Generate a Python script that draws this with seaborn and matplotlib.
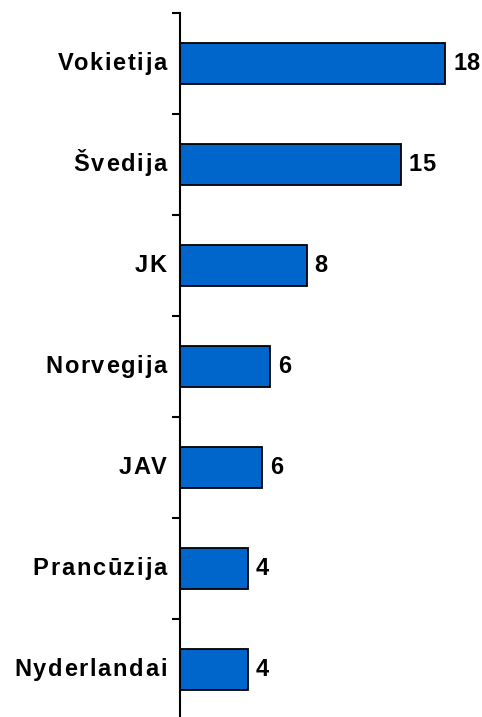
import matplotlib
matplotlib.use("Agg")
import matplotlib.pyplot as plt
from matplotlib.transforms import offset_copy
import seaborn as sns
import pandas as pd
import numpy as np

categories = ["Vokietija", "Švedija", "JK", "Norvegija", "JAV", "Prancūzija", "Nyderlandai"]
values = [18, 15, 8.6, 6.1, 5.6, 4.6, 4.6]
value_labels = ["18", "15", "8", "6", "6", "4", "4"]

sns.set_theme(style="white")
plt.rcParams['font.family'] = ['Liberation Sans', 'DejaVu Sans']
plt.rcParams['text.color'] = 'black'

df = pd.DataFrame({"country": categories, "value": values})

W, H = 482, 717
fig = plt.figure(figsize=(W / 100, H / 100), dpi=100)
left = 180 / W
top_px = 13.3
bottom_px = 720.3
ax = fig.add_axes([left, (H - bottom_px) / H, 1 - left, (bottom_px - top_px) / H])

sns.barplot(data=df, y="country", x="value", orient="h", color="#0066CC",
            saturation=1, edgecolor="black", linewidth=1.3, width=0.406, ax=ax)

ax.set_xlim(0, 20.5)
ax.set_ylim(len(categories) - 0.5, -0.5)
ax.set_xlabel("")
ax.set_ylabel("")
ax.set_xticks([])

for s in ["top", "right", "bottom"]:
    ax.spines[s].set_visible(False)
ax.spines["left"].set_linewidth(1.5)
ax.spines["left"].set_color("black")

ax.set_yticks(range(len(categories)))
ax.set_yticklabels([])
ax.tick_params(axis="y", which="major", length=0)
ax.set_yticks(np.arange(-0.5, len(categories) + 0.5, 1), minor=True)
ax.tick_params(axis="y", which="minor", left=True, length=5.5, width=1.5,
               color="black", direction="out")

FS = 17
renderer = fig.canvas.get_renderer()


def text_width(s):
    t = ax.text(0, 0, s, fontsize=FS, fontweight="bold")
    w = t.get_window_extent(renderer).width
    t.remove()
    return w


def spaced_text(x, y, s, ha, dx, dy, spacing):
    starts = []
    for k in range(len(s)):
        starts.append(text_width(s[:k + 1]) - text_width(s[k]) + k * spacing)
    total = text_width(s) + (len(s) - 1) * spacing
    origin = -total if ha == "right" else 0.0
    for k, ch in enumerate(s):
        tr = offset_copy(ax.transData, fig=fig, x=dx + origin + starts[k], y=dy, units="dots")
        ax.text(x, y, ch, transform=tr, ha="left", va="baseline",
                fontsize=FS, fontweight="bold", color="black", clip_on=False)


for i, name in enumerate(categories):
    spaced_text(0, i, name, "right", -13.5, -6.0, 1.7)

for i, (v, lab) in enumerate(zip(values, value_labels)):
    spaced_text(v, i, lab, "left", 8, -6.0, 0.3)

fig.savefig("out.png", dpi=100)
